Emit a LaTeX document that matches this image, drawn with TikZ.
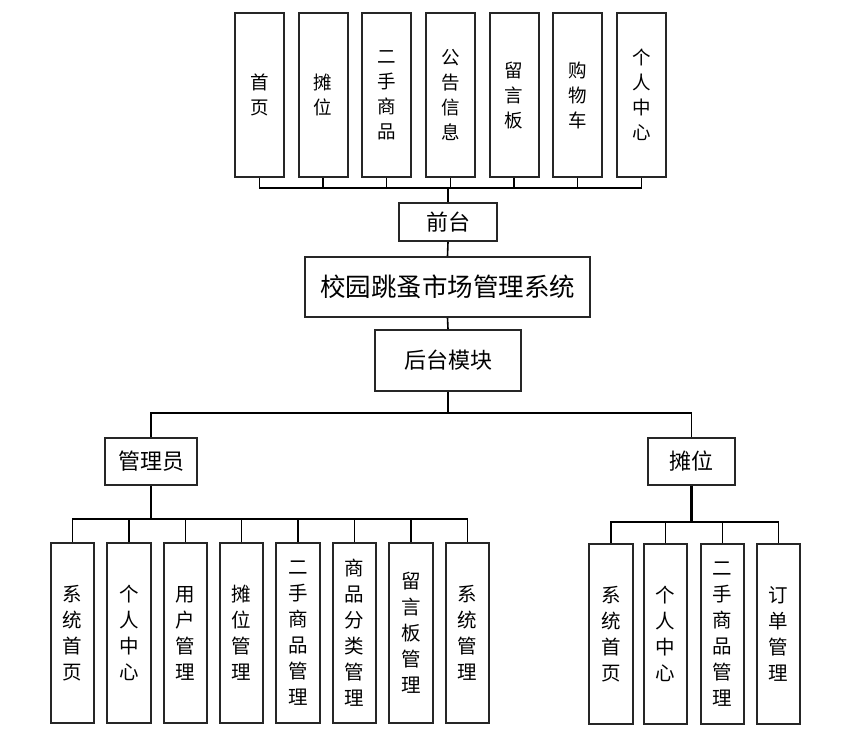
\documentclass[tikz,border=0pt]{standalone}
\usepackage{fontspec}
\setmainfont{Noto Sans CJK SC}
\tikzset{
  box/.style={draw=black!85, line width=2pt, inner sep=0pt, align=center},
  topbox/.style={box, minimum width=49pt, minimum height=164pt, font=\fontsize{18.5}{25}\selectfont},
  subbox/.style={box, minimum width=43.5pt, minimum height=180pt, font=\fontsize{19.5}{26}\selectfont},
  groupbox/.style={box, minimum height=47pt, font=\fontsize{22}{26}\selectfont},
  link/.style={draw=black, line width=1.6pt},
  stem/.style={draw=black, line width=2.6pt}
}
\begin{document}
\begin{tikzpicture}[x=1pt, y=-1pt]
    \useasboundingbox (0,0) rectangle (858,748);
    \node[groupbox, minimum width=98pt, minimum height=38pt] (front) at (448,222) {前台};
    \node[box, minimum width=285pt, minimum height=60pt, font=\fontsize{25.5}{28}\selectfont] (main) at (447.5,287) {校园跳蚤市场管理系统};
    \node[groupbox, minimum width=146pt, minimum height=61pt] (back) at (448,360.5) {后台模块};
    \node[groupbox, minimum width=92pt] (admin) at (151,461.5) {管理员};
    \node[groupbox, minimum width=87pt] (stall) at (691.5,461) {摊位};
    \coordinate (topbus) at (448,188);
    \coordinate (backbus) at (448,413);
    \coordinate (adminbus) at (151,519);
    \coordinate (stallbus) at (691.5,522);
    \foreach \x/\txt [count=\i] in {259.5/{首\\页}, 323/{摊\\位}, 386.5/{二\\手\\商\\品},
      450.5/{公\\告\\信\\息}, 514/{留\\言\\板}, 577.5/{购\\物\\车}, 641.5/{个\\人\\中\\心}}{%
      \node[topbox] (t\i) at (\x,95) {\txt};
      \draw[link] (t\i.south) |- (topbus);
    }
    \foreach \x/\txt [count=\i] in {72.5/{系\\统\\首\\页}, 129/{个\\人\\中\\心}, 185.5/{用\\户\\管\\理},
      241.5/{摊\\位\\管\\理}, 298/{二\\手\\商\\品\\管\\理}, 354.5/{商\\品\\分\\类\\管\\理},
      411/{留\\言\\板\\管\\理}, 467.5/{系\\统\\管\\理}}{%
      \node[subbox] (a\i) at (\x,633) {\txt};
      \draw[link] (a\i.north) |- (adminbus);
    }
    \foreach \x/\txt [count=\i] in {611/{系\\统\\首\\页}, 665.5/{个\\人\\中\\心},
      722.5/{二\\手\\商\\品\\管\\理}, 778.5/{订\\单\\管\\理}}{%
      \node[subbox] (s\i) at (\x,634) {\txt};
      \draw[link] (s\i.north) |- (stallbus);
    }
    \draw[stem] (topbus) -- (front.north);
    \draw[link] (front.south) -- (main.north);
    \draw[link] (main.south) -- (back.north);
    \draw[link] (back.south) -- (backbus) -| (admin.north);
    \draw[link] (backbus) -| (stall.north);
    \draw[stem] (admin.south) -- (adminbus);
    \draw[stem] (stall.south) -- (stallbus);
\end{tikzpicture}
\end{document}
